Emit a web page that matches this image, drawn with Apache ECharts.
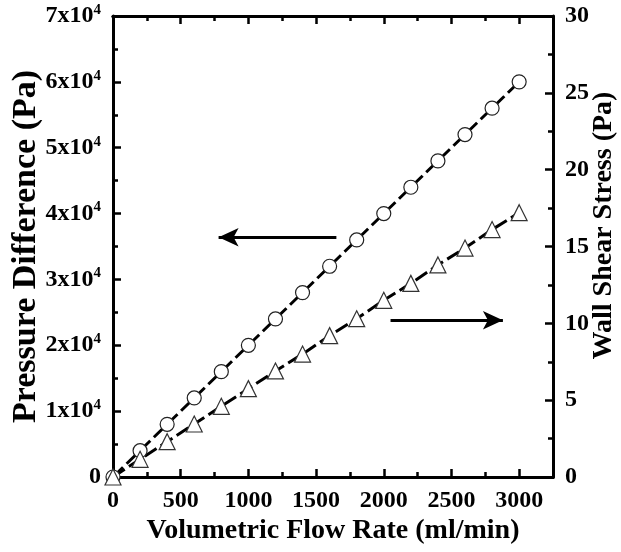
<!DOCTYPE html>
<html><head><meta charset="utf-8">
<script src="https://cdn.jsdelivr.net/npm/echarts@6/dist/echarts.min.js"></script>
<style>html,body{margin:0;padding:0;background:#fff}#c{width:621px;height:552px}</style>
</head><body><div id="c"></div>
<script>
const flowRates = [0,200,400,600,800,1000,1200,1400,1600,1800,2000,2200,2400,2600,2800,3000];
const pressureDiff = [0,4000,8000,12000,16000,20000,24000,28000,32000,36000,40000,44000,48000,52000,56000,60000];
const wallShear = [0,1.15,2.3,3.45,4.6,5.75,6.9,8.0,9.2,10.3,11.5,12.6,13.8,14.9,16.1,17.2];
const leftArrow = [[1650,36400],[780,36400]];
const rightArrow = [[2050,10.2],[2880,10.2]];

const FONT = '"Liberation Serif", "Times New Roman", serif';
const chart = echarts.init(document.getElementById('c'));
const lbl = {fontFamily: FONT, fontWeight: 'bold', fontSize: 24, color: '#000'};
const axLine = {show: true, onZero: false, lineStyle: {color: '#000', width: 3}};
function xAx(pos, interval, len, showLabel, name) {
  return {
    type: 'value', position: pos, min: 0, max: 3250, interval: interval,
    axisLine: axLine,
    axisTick: {show: true, inside: true, length: len, lineStyle: {color: '#000', width: 2.5}},
    axisLabel: showLabel ? Object.assign({show: true, margin: 12, showMaxLabel: false, formatter: v => String(v)}, lbl) : {show: false},
    splitLine: {show: false},
    name: name || '', nameLocation: 'middle', nameGap: 40, nameMoveOverlap: false,
    nameTextStyle: {fontFamily: FONT, fontWeight: 'bold', fontSize: 28, color: '#000'}
  };
}
chart.setOption({
  animation: false,
  grid: {left: 113, right: 68, top: 16, bottom: 75, containLabel: false, outerBoundsMode: 'none'},
  xAxis: [
    xAx('bottom', 500, 8, true, 'Volumetric Flow Rate (ml/min)'),
    xAx('bottom', 250, 5, false),
    xAx('top', 500, 8, false),
    xAx('top', 250, 5, false)
  ],
  yAxis: [
    {
      type: 'value', position: 'left', min: 0, max: 70000, interval: 10000,
      axisLine: axLine,
      axisTick: {show: true, inside: true, length: 8, lineStyle: {color: '#000', width: 2.5}},
      minorTick: {show: true, splitNumber: 2, length: 5, lineStyle: {color: '#000', width: 2.5}},
      axisLabel: Object.assign({margin: 12, formatter: v => v === 0 ? '0' : (v/10000) + 'x10{sup|4}',
        rich: {sup: {fontFamily: FONT, fontWeight: 'bold', fontSize: 15, verticalAlign: 'top', padding: [0,0,12,0], color: '#000'}}}, lbl),
      splitLine: {show: false},
      name: 'Pressure Difference (Pa)', nameLocation: 'middle', nameGap: 70, nameMoveOverlap: false,
      nameTextStyle: {fontFamily: FONT, fontWeight: 'bold', fontSize: 34, color: '#000'}
    },
    {
      type: 'value', position: 'right', min: 0, max: 30, interval: 5,
      axisLine: axLine,
      axisTick: {show: true, inside: true, length: 8, lineStyle: {color: '#000', width: 2.5}},
      minorTick: {show: true, splitNumber: 2, length: 5, lineStyle: {color: '#000', width: 2.5}},
      axisLabel: Object.assign({margin: 12}, lbl),
      splitLine: {show: false},
      name: 'Wall Shear Stress (Pa)', nameLocation: 'middle', nameGap: 37, nameMoveOverlap: false,
      nameTextStyle: {fontFamily: FONT, fontWeight: 'bold', fontSize: 28, color: '#000', padding: [0, 0, 0, 42]}
    }
  ],
  series: [
    {
      type: 'line', xAxisIndex: 0, yAxisIndex: 0,
      data: flowRates.map((x, i) => [x, pressureDiff[i]]),
      symbol: 'circle', symbolSize: 14, showAllSymbol: true,
      lineStyle: {color: '#000', width: 3, type: [14, 5]},
      itemStyle: {color: '#fff', borderColor: '#222', borderWidth: 1.2},
      z: 3,
      markLine: {
        silent: true, symbol: ['none', 'arrow'], symbolSize: [14, 20],
        lineStyle: {color: '#000', width: 3, type: 'solid'}, label: {show: false},
        data: [[{coord: leftArrow[0]}, {coord: leftArrow[1]}]]
      }
    },
    {
      type: 'line', xAxisIndex: 0, yAxisIndex: 1,
      data: flowRates.map((x, i) => [x, wallShear[i]]),
      symbol: 'triangle', symbolSize: 16, showAllSymbol: true,
      lineStyle: {color: '#000', width: 3, type: [14, 5]},
      itemStyle: {color: '#fff', borderColor: '#333', borderWidth: 1.2},
      z: 3,
      markLine: {
        silent: true, symbol: ['none', 'arrow'], symbolSize: [14, 20],
        lineStyle: {color: '#000', width: 3, type: 'solid'}, label: {show: false},
        data: [[{coord: rightArrow[0]}, {coord: rightArrow[1]}]]
      }
    }
  ]
});
</script></body></html>
